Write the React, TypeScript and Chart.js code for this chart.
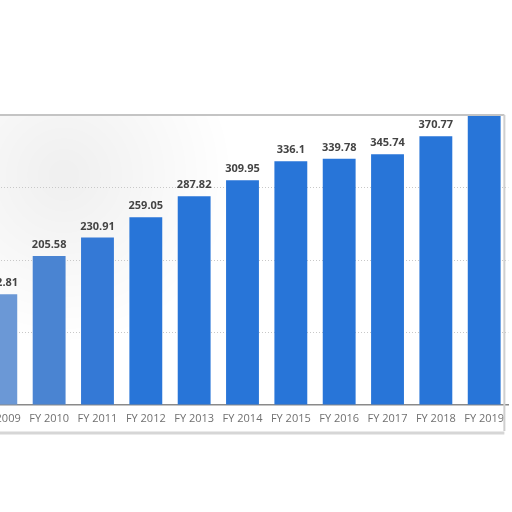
import React, { useEffect, useRef } from "react";
import { Chart, registerables } from "chart.js";

Chart.register(...registerables);

const categories = ["FY 2009", "FY 2010", "FY 2011", "FY 2012", "FY 2013", "FY 2014", "FY 2015", "FY 2016", "FY 2017", "FY 2018", "FY 2019"];
const values = [152.81, 205.58, 230.91, 259.05, 287.82, 309.95, 336.1, 339.78, 345.74, 370.77, 400];
const barColors = ["#6b98d6", "#4a84d2", "#3479d6", "#2875d8", "#2875d8", "#2875d8", "#2875d8", "#2875d8", "#2875d8", "#2875d8", "#2875d8"];
const yMax = 400;
const yStep = 100;

const labelPlugin = {
  id: "barLabels",
  afterDatasetsDraw(chart: any) {
    const ctx = chart.ctx;
    const meta = chart.getDatasetMeta(0);
    ctx.save();
    ctx.font = "bold 11px 'Open Sans', sans-serif";
    ctx.fillStyle = "#444444";
    ctx.textAlign = "center";
    ctx.textBaseline = "middle";
    meta.data.forEach((bar: any, i: number) => {
      const v = values[i];
      if (v >= yMax) return;
      ctx.fillText(String(v), bar.x, bar.y - 11);
    });
    ctx.restore();
  },
};

const framePlugin = {
  id: "frame",
  beforeDraw(chart: any) {
    const ctx = chart.ctx;
    const ca = chart.chartArea;
    ctx.save();
    const g = ctx.createRadialGradient(90, ca.top + 60, 10, 90, ca.top + 60, 170);
    g.addColorStop(0, "rgba(0,0,0,0.06)");
    g.addColorStop(1, "rgba(0,0,0,0)");
    ctx.fillStyle = g;
    ctx.fillRect(0, ca.top, 300, 260);
    ctx.restore();
  },
  afterDraw(chart: any) {
    const ctx = chart.ctx;
    const ca = chart.chartArea;
    ctx.save();
    ctx.strokeStyle = "#c4c4c4";
    ctx.lineWidth = 2;
    ctx.beginPath();
    ctx.moveTo(0, ca.top);
    ctx.lineTo(ca.right - 4, ca.top);
    ctx.stroke();
    ctx.strokeStyle = "#cfcfcf";
    ctx.beginPath();
    ctx.moveTo(ca.right - 4, ca.top);
    ctx.lineTo(ca.right - 4, ca.bottom + 26);
    ctx.stroke();
    ctx.strokeStyle = "#d6d6d6";
    ctx.lineWidth = 3;
    ctx.beginPath();
    ctx.moveTo(0, ca.bottom + 28);
    ctx.lineTo(ca.right - 4, ca.bottom + 28);
    ctx.stroke();
    ctx.restore();
  },
};

export default function App() {
  const ref = useRef<HTMLCanvasElement>(null);
  useEffect(() => {
    if (!ref.current) return;
    const chart = new Chart(ref.current, {
      type: "bar",
      data: {
        labels: categories,
        datasets: [
          {
            data: values,
            backgroundColor: barColors,
            categoryPercentage: 1,
            barPercentage: 0.68,
          },
        ],
      },
      options: {
        animation: false,
        responsive: false,
        maintainAspectRatio: false,
        layout: { padding: { top: 115, left: 0, right: 0, bottom: 0 } },
        plugins: { legend: { display: false }, tooltip: { enabled: false } },
        scales: {
          x: {
            grid: { display: false, drawTicks: false },
            border: { display: true, color: "#8a8a8a", width: 1.5 },
            ticks: { color: "#707070", font: { family: "'Open Sans', sans-serif", size: 11 }, padding: 7, maxRotation: 0, autoSkip: false },
            afterFit: (s: any) => { s.height = 107; },
          },
          y: {
            min: 0,
            max: yMax,
            ticks: { display: false, stepSize: yStep },
            grid: {
              drawTicks: false,
              color: (c: any) => (c.tick && c.tick.value > 0 && c.tick.value < yMax ? "#c8c8c8" : "rgba(0,0,0,0)"),
              lineWidth: 1,
            },
            border: { display: false, dash: [1, 2] },
            afterFit: (s: any) => { s.width = 0; },
          },
        },
      },
      plugins: [labelPlugin, framePlugin],
    });
    return () => chart.destroy();
  }, []);
  return (
    <div style={{ position: "fixed", left: 0, top: 0, width: 512, height: 512, overflow: "hidden", background: "#ffffff" }}>
      <canvas ref={ref} width={537} height={512} style={{ position: "absolute", left: -26, top: 0, width: 537, height: 512 }} />
    </div>
  );
}
